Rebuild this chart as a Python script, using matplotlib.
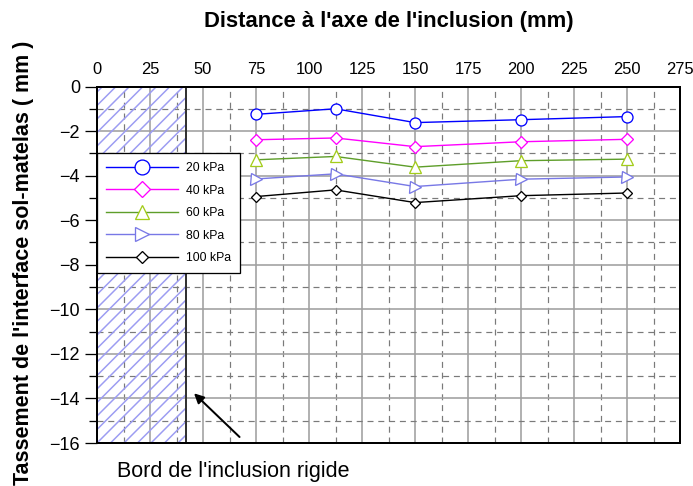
import numpy as np
import matplotlib.pyplot as plt
from matplotlib.patches import Rectangle
from matplotlib.ticker import MultipleLocator

plt.rcParams['font.family'] = ['Liberation Sans', 'DejaVu Sans']

# DPI choisi pour que l'espacement des hachures colle a l'original
DPI = 81
def px(v):
    # conversion pixels -> points
    return v * 72.0 / DPI

plt.rcParams['hatch.linewidth'] = px(1.5)
plt.rcParams['hatch.color'] = '#9c9cf2'

# DONNEES
distance = [75, 112.5, 150, 200, 250]
t20 = [-1.25, -1.0, -1.62, -1.49, -1.35]
t40 = [-2.39, -2.31, -2.70, -2.48, -2.37]
t60 = [-3.29, -3.14, -3.62, -3.33, -3.26]
t80 = [-4.15, -3.92, -4.49, -4.16, -4.06]
t100 = [-4.94, -4.64, -5.21, -4.90, -4.78]
bord_inclusion = 42

W, H = 693, 486
fig = plt.figure(figsize=(W / DPI, H / DPI), dpi=DPI)
ax = fig.add_axes([97 / W, 43 / H, 583 / W, 356.5 / H])

# ZONE DE L'INCLUSION
ax.add_patch(Rectangle((0, -16), bord_inclusion, 16, facecolor='none',
                       edgecolor='#9c9cf2', hatch='//', linewidth=0, zorder=1))
ax.axvline(bord_inclusion, color='#333333', lw=px(2), zorder=2)

ax.plot(distance, t20, '-o', color='#0000ff', mfc='white', mec='#0000ff',
        ms=px(11), mew=px(1.3), lw=px(1.4), label='20 kPa', zorder=4)
ax.plot(distance, t40, '-D', color='#ff00ff', mfc='white', mec='#ff00ff',
        ms=px(8.5), mew=px(1.3), lw=px(1.4), label='40 kPa', zorder=4)
ax.plot(distance, t60, '-^', color='#5e9e2a', mfc='white', mec='#a3cc1a',
        ms=px(11), mew=px(1.3), lw=px(1.4), label='60 kPa', zorder=4)
ax.plot(distance, t80, '->', color='#7878e6', mfc='white', mec='#7878e6',
        ms=px(11), mew=px(1.3), lw=px(1.4), label='80 kPa', zorder=4)
ax.plot(distance, t100, '-D', color='black', mfc='white', mec='black',
        ms=px(6.5), mew=px(1.3), lw=px(1.4), label='100 kPa', zorder=4)

ax.set_xlim(0, 275)
ax.set_ylim(-16, 0)
ax.xaxis.set_major_locator(MultipleLocator(25))
ax.xaxis.set_minor_locator(MultipleLocator(12.5))
ax.yaxis.set_major_locator(MultipleLocator(2))
ax.yaxis.set_minor_locator(MultipleLocator(1))
ax.xaxis.tick_top()
ax.tick_params(axis='x', which='both', length=0, labelsize=px(16.5),
               pad=px(9))
ax.tick_params(axis='y', which='major', length=px(12), width=px(1.3),
               labelsize=px(18), pad=px(5))
ax.tick_params(axis='y', which='minor', length=px(8), width=px(1.3))

ax.grid(which='major', color='#a0a0a0', lw=px(1.6), ls='-', zorder=0)
ax.grid(which='minor', color='#7a7a7a', lw=px(1.2), ls=(0, (5, 4)), zorder=0)
ax.set_axisbelow(True)
for s in ax.spines.values():
    s.set_linewidth(px(2))

ax.xaxis.set_label_position('top')
ax.set_xlabel("Distance à l'axe de l'inclusion (mm)", fontsize=px(22),
              fontweight='bold')
ax.xaxis.label.set_va('center')
ax.xaxis.set_label_coords(0.5, (H - 22 - 43) / 356.5)
ax.set_ylabel("Tassement de l'interface sol-matelas ( mm )", fontsize=px(21.5),
              fontweight='bold')
ax.yaxis.label.set_va('center')
ax.yaxis.set_label_coords((24 - 97) / 583, (H - 263 - 43) / 356.5)

leg = ax.legend(loc='upper left', bbox_to_anchor=(0.0, 1 - 66.5 / 356.5),
                borderaxespad=0, fontsize=px(12.3), frameon=True,
                fancybox=False, edgecolor='black', framealpha=1,
                handlelength=5.8, handletextpad=0.65, markerscale=1.35,
                borderpad=0.75, labelspacing=0.85)
leg.get_frame().set_linewidth(px(1.3))

ax.annotate('', xy=(45, -13.7), xytext=(68, -15.8),
            arrowprops=dict(arrowstyle='-|>', color='black', lw=px(2),
                            mutation_scale=px(20)), annotation_clip=False)
ax.text(64.2, -17.26, "Bord de l'inclusion rigide", ha='center', va='center',
        fontsize=px(21.5), clip_on=False)

plt.savefig('out.png', dpi=DPI)
